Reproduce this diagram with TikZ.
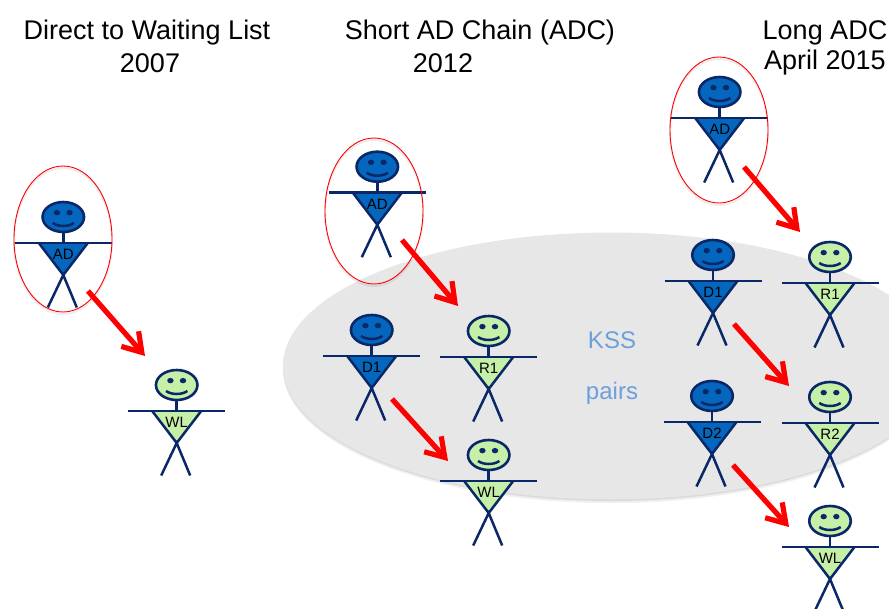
\documentclass[tikz,border=0pt]{standalone}
\usepackage{fontspec}
\setmainfont{Liberation Sans}
\usetikzlibrary{arrows.meta}
\usetikzlibrary{shapes.geometric}

\definecolor{donorblue}{HTML}{0566BD}
\definecolor{recipgreen}{HTML}{C6EFA8}
\definecolor{stickline}{HTML}{0A2868}
\definecolor{ksstext}{HTML}{6C9FDB}
\definecolor{ksspool}{HTML}{E7E7E7}
\definecolor{kssshadow}{HTML}{DADADA}
\definecolor{kssshadowb}{HTML}{EFEFEF}

\tikzset{
  head/.style={ellipse, draw=stickline, line width=2.6pt, minimum width=41.5pt, minimum height=30pt, inner sep=0pt},
  limb/.style={draw=stickline, line width=2.5pt},
  eye/.style={ellipse, fill=stickline, minimum width=6.4pt, minimum height=5.4pt, inner sep=0pt},
  tag/.style={font=\fontsize{15}{17}\selectfont, inner sep=0pt},
  title/.style={font=\fontsize{27}{32}\selectfont, inner sep=0pt},
  kss/.style={font=\fontsize{24}{28}\selectfont, text=ksstext, inner sep=0pt},
  ring/.style={ellipse, draw=red, line width=0.9pt, minimum width=98pt, minimum height=146pt, inner sep=0pt},
  ringshadow/.style={ring, draw=black, draw opacity=0.07, line width=2pt},
  pool/.style={ellipse, minimum width=656pt, minimum height=267pt, inner sep=0pt},
  pairarrow/.style={draw=red, line width=5.2pt, -{Straight Barb[length=18pt,width=23pt,line width=5.2pt]}}
}

% name, position, fill, label
\newcommand{\stickman}[4]{
  \begin{scope}[shift={(#2)}]
    \coordinate (#1-tl) at (-24.5,26);
    \coordinate (#1-tr) at (24.5,26);
    \coordinate (#1-hip) at (0,58);
    \fill[#3] (#1-tl) -- (#1-tr) -- (#1-hip) -- cycle;
    \draw[limb] (#1-tl) -- (#1-hip) -- (#1-tr);
    \coordinate (#1-al) at (-48.5,26);
    \coordinate (#1-ar) at (48.5,26);
    \draw[limb] (#1-al) -- (#1-ar);
    \coordinate (#1-fl) at (-15.5,90.5);
    \coordinate (#1-fr) at (13.5,90.5);
    \draw[limb] (#1-fl) -- (#1-hip) -- (#1-fr);
    \node[head, fill=#3] (#1) at (0,0) {};
    \draw[limb] (#1.south) -- (0,26);
    \node[eye] (#1-el) at (-6.3,-4.4) {};
    \node[eye] (#1-er) at (6.3,-4.4) {};
    \coordinate (#1-sl) at (-10.7,6);
    \coordinate (#1-sr) at (10.7,6);
    \draw[limb] (#1-sl) .. controls (-5,10) and (5,10) .. (#1-sr);
    \node[tag] (#1-tag) at (0,37.5) {#4};
  \end{scope}
}

\begin{document}
\begin{tikzpicture}[x=1pt,y=-1pt]
  \clip (0,0) rectangle (889,608);
  % KSS pool
  \node[pool, fill=kssshadowb] (poolshadowb) at (611,369.5) {};
  \node[pool, fill=kssshadow] (poolshadow) at (611,367.5) {};
  \node[pool, fill=ksspool] (pool) at (611,366) {};
  \node[kss] (ksstop) at (612,340) {KSS};
  \node[kss] (ksspairs) at (612,393) {pairs};

  % Titles
  \node[title] (t1a) at (147,33) {Direct to Waiting List};
  \node[title] (t1b) at (150,63) {2007};
  \node[title] (t2a) at (480,33) {Short AD Chain (ADC)};
  \node[title] (t2b) at (443,63) {2012};
  \node[title] (t3a) at (825,33) {Long ADC};
  \node[title] (t3b) at (825,63) {April 2015};

  % Direct
  \stickman{adA}{63.3,217}{donorblue}{AD}
  \stickman{wlA}{176.7,385}{recipgreen}{WL}
  \node[ringshadow] (ringAs) at (63,241) {};
  \node[ring] (ringA) at (63,239) {};
  \coordinate (adAout) at (88,291);
  \coordinate (wlAin) at (145,356);
  \draw[pairarrow] (adAout) -- (wlAin);

  % Short chain
  \stickman{adB}{377.3,166.7}{donorblue}{AD}
  \stickman{dB}{371.7,330}{donorblue}{D1}
  \stickman{rB}{488.7,331}{recipgreen}{R1}
  \stickman{wlB}{488.7,455}{recipgreen}{WL}
  \node[ringshadow] (ringBs) at (374,213) {};
  \node[ring] (ringB) at (374,211) {};
  \coordinate (adBout) at (402,240);
  \coordinate (rBin) at (458,306);
  \coordinate (dBout) at (392,399);
  \coordinate (wlBin) at (448,461);
  \draw[pairarrow] (adBout) -- (rBin);
  \draw[pairarrow] (dBout) -- (wlBin);

  % Long chain
  \stickman{adC}{719.7,92}{donorblue}{AD}
  \stickman{dC}{713,255}{donorblue}{D1}
  \stickman{rC}{830,257}{recipgreen}{R1}
  \stickman{dD}{712,396}{donorblue}{D2}
  \stickman{rD}{830,397}{recipgreen}{R2}
  \stickman{wlC}{830,521}{recipgreen}{WL}
  \node[ringshadow] (ringCs) at (719,132) {};
  \node[ring] (ringC) at (719,130) {};
  \coordinate (adCout) at (744,167);
  \coordinate (rCin) at (800,232);
  \coordinate (dCout) at (734,324);
  \coordinate (rDin) at (789,386);
  \coordinate (dDout) at (733,465);
  \coordinate (wlCin) at (789,527);
  \draw[pairarrow] (adCout) -- (rCin);
  \draw[pairarrow] (dCout) -- (rDin);
  \draw[pairarrow] (dDout) -- (wlCin);
\end{tikzpicture}
\end{document}
